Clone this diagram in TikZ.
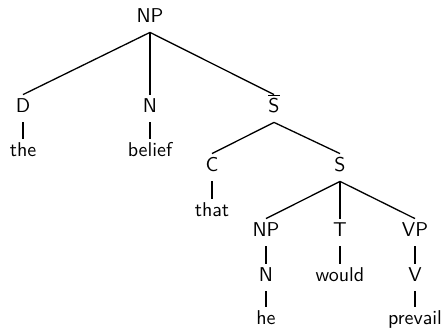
\documentclass[tikz,border=0pt]{standalone}
\begin{document}
\begin{tikzpicture}[x=0.5pt,y=-0.5pt,
  lab/.style={font=\sffamily, anchor=base, inner xsep=1pt, inner ysep=2pt, text height=7pt, text depth=2.5pt},
  edge/.style={line width=0.65pt}]
\useasboundingbox (0,0) rectangle (443,330);
\node[lab] (root) at (150,23) {NP};
\node[lab] (d) at (23,113) {D};
\node[lab] (n1) at (150,113) {N};
\node[lab] (sb) at (274,113) {$\overline{\mbox{S}}$};
\node[lab] (the) at (23,157) {the};
\node[lab] (belief) at (150,157) {belief};
\node[lab] (c) at (212,172) {C};
\node[lab] (s) at (340,172) {S};
\node[lab] (that) at (212,217) {that};
\node[lab] (np2) at (266,237) {NP};
\node[lab] (t) at (340,237) {T};
\node[lab] (vp) at (415,237) {VP};
\node[lab] (n2) at (266,282) {N};
\node[lab] (would) at (340,282) {would};
\node[lab] (v) at (415,282) {V};
\node[lab] (he) at (266,325) {he};
\node[lab] (prevail) at (415,325) {prevail};
\draw[edge] (root.south) -- (d.north);
\draw[edge] (root.south) -- (n1.north);
\draw[edge] (root.south) -- (sb.north);
\draw[edge] (d.south) -- (the.north);
\draw[edge] (n1.south) -- (belief.north);
\draw[edge] (sb.south) -- (c.north);
\draw[edge] (sb.south) -- (s.north);
\draw[edge] (c.south) -- (that.north);
\draw[edge] (s.south) -- (np2.north);
\draw[edge] (s.south) -- (t.north);
\draw[edge] (s.south) -- (vp.north);
\draw[edge] (np2.south) -- (n2.north);
\draw[edge] (t.south) -- (would.north);
\draw[edge] (vp.south) -- (v.north);
\draw[edge] (n2.south) -- (he.north);
\draw[edge] (v.south) -- (prevail.north);
\end{tikzpicture}
\end{document}
